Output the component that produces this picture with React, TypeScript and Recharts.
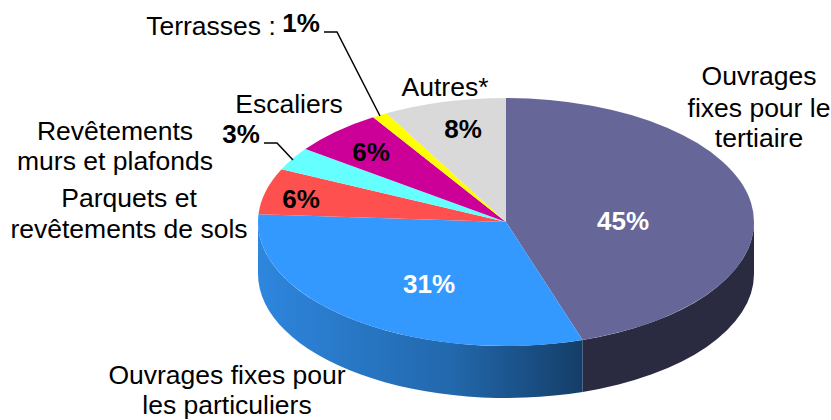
import React from "react";
import { PieChart, Pie } from "recharts";

const categories = [
  "Ouvrages fixes pour le tertiaire",
  "Ouvrages fixes pour les particuliers",
  "Parquets et revêtements de sols",
  "Revêtements murs et plafonds",
  "Escaliers",
  "Terrasses",
  "Autres*",
];
const shares = [45, 31, 6, 3, 6, 1, 8];
const topColors = ["#666699", "#3399FF", "#FF5050", "#66FFFF", "#CC0099", "#FFFF00", "#D9D9D9"];
const wallColors = ["#2A2A40", "url(#blueWall)", "#A03030", "#40A0A0", "#800060", "#A0A000", "#888888"];

const chartData = categories.map((name, i) => ({ name, value: shares[i] }));

const CX = 506;
const CY = 222;
const RX = 248;
const RY = 124;
const DEPTH = 52;

const pt = (a: number, dy = 0) => {
  const r = (a * Math.PI) / 180;
  return [CX + RX * Math.cos(r), CY + dy - RY * Math.sin(r)];
};

const TopSlice = (props: any) => {
  const { startAngle, endAngle, index } = props;
  const [x1, y1] = pt(startAngle);
  const [x2, y2] = pt(endAngle);
  const large = Math.abs(startAngle - endAngle) > 180 ? 1 : 0;
  return (
    <path
      d={`M${CX},${CY}L${x1},${y1}A${RX},${RY} 0 ${large} 1 ${x2},${y2}Z`}
      fill={topColors[index]}
      stroke="none"
    />
  );
};

const WallSlice = (props: any) => {
  const { startAngle, endAngle, index } = props;
  const s = Math.min(startAngle, 0);
  const e = Math.max(endAngle, -180);
  if (s <= e) return <g />;
  const [x1, y1] = pt(s);
  const [x2, y2] = pt(e);
  const [x3, y3] = pt(e, DEPTH);
  const [x4, y4] = pt(s, DEPTH);
  return (
    <path
      d={`M${x1},${y1}A${RX},${RY} 0 0 1 ${x2},${y2}L${x3},${y3}A${RX},${RY} 0 0 0 ${x4},${y4}Z`}
      fill={wallColors[index]}
      stroke="none"
    />
  );
};

const FONT = "'Liberation Sans', Arial, sans-serif";

const Txt = ({ x, y, bold = false, fill = "#000", children }: any) => (
  <text x={x} y={y} textAnchor="middle" fontFamily={FONT} fontSize={bold ? 26 : 26.5} fontWeight={bold ? 700 : 400} fill={fill}>
    {children}
  </text>
);

const percentStyle = [
  { x: 623, y: 230, fill: "#fff" },
  { x: 429, y: 293, fill: "#fff" },
  { x: 301, y: 208, fill: "#000" },
  { x: 241, y: 143, fill: "#000" },
  { x: 371, y: 161, fill: "#000" },
  { x: 301, y: 32, fill: "#000" },
  { x: 463, y: 138, fill: "#000" },
];

const nameLines = [
  ["Ouvrages", "fixes pour le", "tertiaire"],
  ["Ouvrages fixes pour", "les particuliers"],
  ["Parquets et", "revêtements de sols"],
  ["Revêtements", "murs et plafonds"],
  ["Escaliers"],
  ["Terrasses :"],
  ["Autres*"],
];
const nameStyle = [
  { x: 759, ys: [85, 117, 147] },
  { x: 227, ys: [384, 414] },
  { x: 129, ys: [207, 238] },
  { x: 115, ys: [140, 170] },
  { x: 289, ys: [113] },
  { x: 211, ys: [35] },
  { x: 445, ys: [96] },
];
const leaders: Record<number, string> = {
  3: "M264,143H277L293,160",
  5: "M324,32H337L380,116",
};

const SliceLabel = (props: any) => {
  const { index, value } = props;
  const p = percentStyle[index];
  const n = nameStyle[index];
  return (
    <g>
      <Txt x={p.x} y={p.y} bold fill={p.fill}>{`${value}%`}</Txt>
      {nameLines[index].map((line, i) => (
        <Txt key={line} x={n.x} y={n.ys[i]}>{line}</Txt>
      ))}
      {leaders[index] && <path d={leaders[index]} fill="none" stroke="#000" strokeWidth={1.5} />}
    </g>
  );
};

export default function App() {
  return (
    <div style={{ position: "absolute", left: 0, top: 0, width: 831, height: 420, background: "#fff" }}>
      <PieChart width={831} height={420} margin={{ top: 0, right: 0, bottom: 0, left: 0 }}>
        <defs>
          <linearGradient id="blueWall" gradientUnits="userSpaceOnUse" x1={258} y1={0} x2={582} y2={0}>
            <stop offset="0%" stopColor="#2E86DE" />
            <stop offset="60%" stopColor="#2268AC" />
            <stop offset="100%" stopColor="#143E68" />
          </linearGradient>
        </defs>
        <Pie
          data={chartData}
          dataKey="value"
          cx={CX}
          cy={CY}
          innerRadius={0}
          outerRadius={RX}
          startAngle={90}
          endAngle={-270}
          paddingAngle={0}
          stroke="none"
          isAnimationActive={false}
          shape={WallSlice}
          label={false}
          labelLine={false}
          rootTabIndex={-1}
        />
        <Pie
          data={chartData}
          dataKey="value"
          cx={CX}
          cy={CY}
          innerRadius={0}
          outerRadius={RX}
          startAngle={90}
          endAngle={-270}
          paddingAngle={0}
          stroke="none"
          isAnimationActive={false}
          shape={TopSlice}
          label={SliceLabel}
          labelLine={false}
          rootTabIndex={-1}
        />
      </PieChart>
    </div>
  );
}
